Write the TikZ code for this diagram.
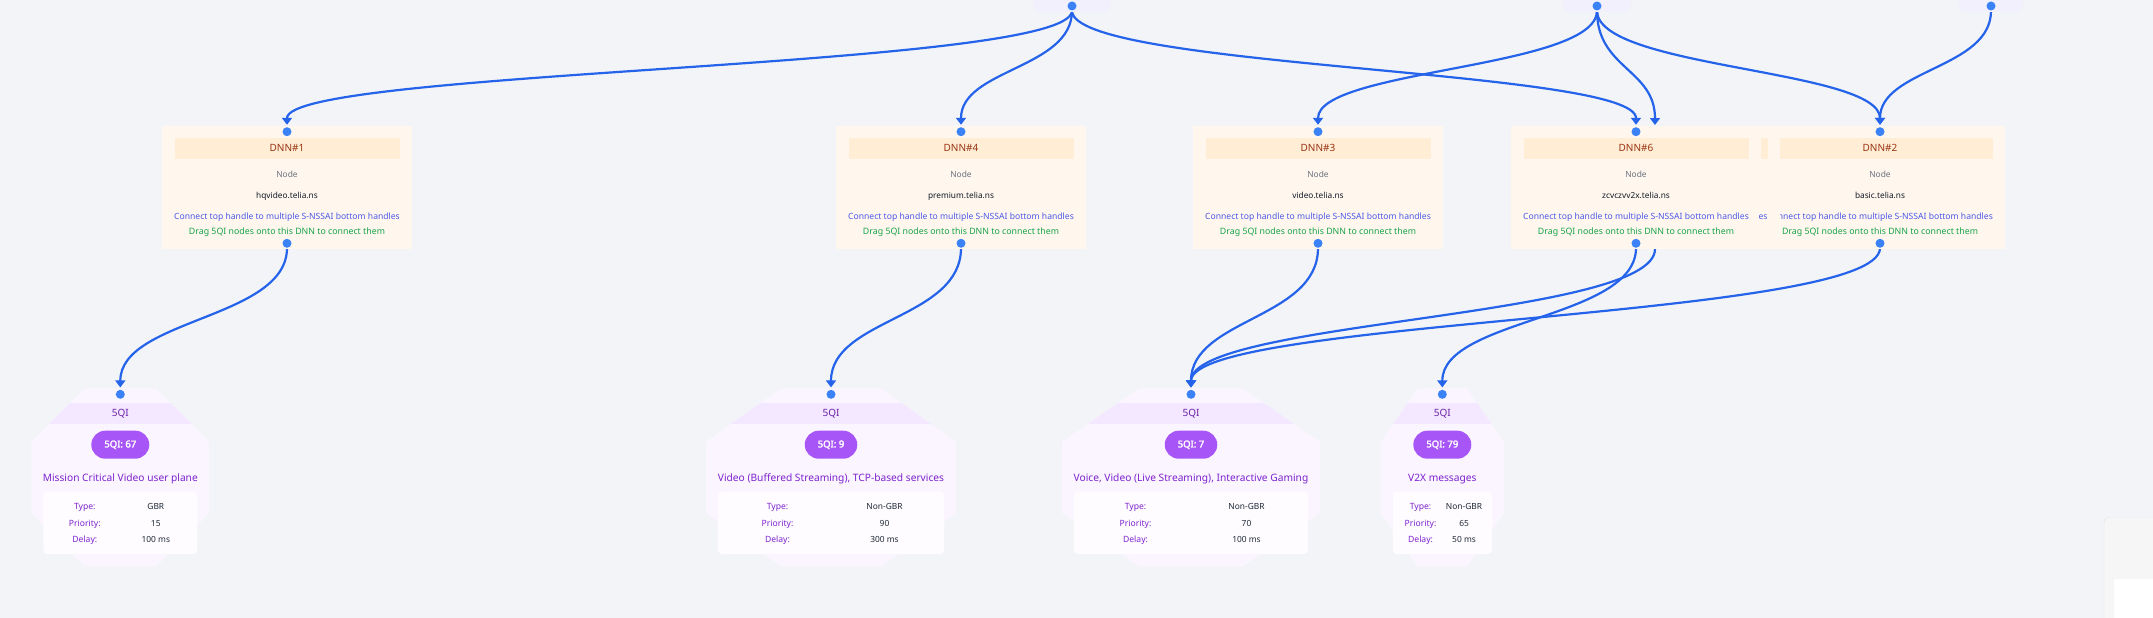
\documentclass[tikz,border=0pt]{standalone}
\usepackage{fontspec}
\setmainfont{Noto Sans}[AutoFakeBold=2.5]
\usetikzlibrary{arrows.meta}

\definecolor{canvasc}{RGB}{242,244,247}
\definecolor{edgec}{RGB}{37,99,235}
\definecolor{handlec}{RGB}{59,130,246}
\definecolor{srcc}{RGB}{241,240,252}
\definecolor{dnnc}{RGB}{255,247,237}
\definecolor{dnnheadc}{RGB}{255,237,213}
\definecolor{dnntitlec}{RGB}{154,52,18}
\definecolor{kindc}{RGB}{107,114,128}
\definecolor{hostc}{RGB}{17,24,39}
\definecolor{hintc}{RGB}{74,88,232}
\definecolor{dragc}{RGB}{22,163,74}
\definecolor{qic}{RGB}{250,245,255}
\definecolor{qiheadc}{RGB}{243,232,255}
\definecolor{qititlec}{RGB}{107,33,168}
\definecolor{qipillc}{RGB}{168,85,247}
\definecolor{qitextc}{RGB}{126,34,206}
\definecolor{qiinfoc}{RGB}{254,252,255}
\definecolor{qivalc}{RGB}{31,41,55}
\definecolor{panelc}{RGB}{246,246,247}
\definecolor{panellinec}{RGB}{228,229,232}

\pgfdeclarelayer{canvaslayer}
\pgfdeclarelayer{edgelayer}
\pgfsetlayers{canvaslayer,edgelayer,main}

\tikzset{
  txt/.style={inner sep=0pt,text height=0.74em,text depth=0.2em},
  handledot/.style={circle,fill=handlec,minimum size=9pt,inner sep=0pt},
  link/.style={draw=edgec,line width=2.2pt,-{Triangle[length=7pt,width=10pt]},shorten >=2.2pt},
  srcbox/.style={fill=srcc,rounded corners=6pt,minimum height=32pt,inner sep=0pt},
  dnnbox/.style={fill=dnnc,minimum width=250pt,minimum height=123.3pt,inner sep=0pt},
  dnnhead/.style={txt,fill=dnnheadc,minimum width=225pt,minimum height=21.3pt,text=dnntitlec,font=\fontsize{10}{12}\selectfont},
  kindlabel/.style={txt,text=kindc,font=\fontsize{8.4}{10}\selectfont},
  hostlabel/.style={txt,text=hostc,font=\fontsize{8.3}{10}\selectfont},
  hintlabel/.style={txt,text=hintc,font=\fontsize{8.6}{10}\selectfont},
  draglabel/.style={txt,text=dragc,font=\fontsize{8.8}{10}\selectfont},
  qihead/.style={txt,text=qititlec,font=\fontsize{10}{12}\selectfont},
  qipill/.style={txt,fill=qipillc,text=white,rounded corners=14pt,minimum height=28pt,inner xsep=13pt,font=\bfseries\fontsize{9.5}{11}\selectfont},
  qiabout/.style={txt,text=qitextc,font=\fontsize{10.2}{12}\selectfont},
  qiinfo/.style={fill=qiinfoc,rounded corners=4pt,minimum height=62.3pt,inner sep=0pt},
  qikey/.style={txt,text=qitextc,font=\fontsize{8.6}{10}\selectfont},
  qival/.style={txt,text=qivalc,font=\fontsize{8.4}{10}\selectfont}
}

\begin{document}
\begin{tikzpicture}[x=1pt,y=-1pt]
\useasboundingbox (0,0) rectangle (2153,618);
\begin{pgfonlayer}{canvaslayer}
\fill[canvasc] (0,0) rectangle (2153,618);
\end{pgfonlayer}

% S-NSSAI nodes (cut off at the top)
\foreach \cx/\w/\id in {1072/77/1,1597/68/2,1991/64/3}{
    \node[srcbox,minimum width=\w pt] (src\id) at (\cx,-4) {};
    \node[handledot] (src\id out) at (\cx,6) {};
}

% DNN nodes
\foreach \cx/\id/\host in {287/1/hqvideo.telia.ns,961/4/premium.telia.ns,1318/3/video.telia.ns,1636/6/zcvczvv2x.telia.ns,1880/2/basic.telia.ns}{
    \node[dnnbox] (dnn\id) at (\cx,187.35) {};
    \node[dnnhead] (dnn\id head) at (\cx,148.35) {DNN\#\id};
    \node[kindlabel] (dnn\id kind) at (\cx,174.3) {Node};
    \node[hostlabel] (dnn\id host) at (\cx,196) {\host};
    \node[hintlabel] (dnn\id hint) at (\cx,216.7) {Connect top handle to multiple S-NSSAI bottom handles};
    \node[draglabel] (dnn\id drag) at (\cx,231.7) {Drag 5QI nodes onto this DNN to connect them};
    \node[handledot] (dnn\id top) at (\cx,131.7) {};
    \node[handledot] (dnn\id bot) at (\cx,243.3) {};
}

% DNN hidden under DNN#6, only its right edge shows
\fill[dnnc] (1761,125.7) rectangle (1780,249);
\fill[dnnheadc] (1761,137.7) rectangle (1767.7,159);
\node[hintlabel,anchor=east] (hidhint) at (1767.7,216.7) {es};
\coordinate (hidtop) at (1655,127.2);
\coordinate (hidbot) at (1655,249);

% 5QI nodes
\foreach \cx/\w/\qi/\about/\kind/\prio/\delay in {
    120.3/178/67/{Mission Critical Video user plane}/GBR/15/100 ms,
    831/250/9/{Video (Buffered Streaming), TCP-based services}/Non-GBR/90/300 ms,
    1191/258/7/{Voice, Video (Live Streaming), Interactive Gaming}/Non-GBR/70/100 ms,
    1442.3/123/79/{V2X messages}/Non-GBR/65/50 ms}{
    \pgfmathsetmacro{\hw}{\w/2}
    \pgfmathsetmacro{\cut}{0.3*\w}
    \pgfmathsetmacro{\bw}{\w-24}
    \pgfmathsetmacro{\col}{\bw/4-3}
    \begin{scope}
        \path[preaction={fill=qic},clip] ({\cx-\hw+\cut},388.3) -- ({\cx+\hw-\cut},388.3) -- ({\cx+\hw},441.8) -- ({\cx+\hw},513.2)
            -- ({\cx+\hw-\cut},566.7) -- ({\cx-\hw+\cut},566.7) -- ({\cx-\hw},513.2) -- ({\cx-\hw},441.8) -- cycle;
        \fill[qiheadc] ({\cx-\hw},402.7) rectangle ({\cx+\hw},424.3);
    \end{scope}
    \node[qihead] (q\qi head) at (\cx,413.7) {5QI};
    \node[qipill] (q\qi pill) at (\cx,444.7) {5QI: \qi};
    \node[qiabout] (q\qi about) at (\cx,479) {\about};
    \node[qiinfo,minimum width=\bw pt] (q\qi info) at (\cx,522.85) {};
    \node[qikey] (q\qi typekey) at ({\cx-\col},506.7) {Type:};
    \node[qival] (q\qi typeval) at ({\cx+\col},506.7) {\kind};
    \node[qikey] (q\qi priokey) at ({\cx-\col},523.7) {Priority:};
    \node[qival] (q\qi prioval) at ({\cx+\col},523.7) {\prio};
    \node[qikey] (q\qi delaykey) at ({\cx-\col},539.3) {Delay:};
    \node[qival] (q\qi delayval) at ({\cx+\col},539.3) {\delay};
    \node[handledot] (q\qi top) at (\cx,394.3) {};
}

% minimap panel, bottom right
\draw[fill=panelc,draw=panellinec,rounded corners=6pt] (2104,517) rectangle (2200,680);
\fill[white] (2114,579) rectangle (2200,680);

% edges, under the nodes
\begin{pgfonlayer}{edgelayer}
\foreach \a/\b in {src1out/dnn1top,src1out/dnn4top,src1out/dnn6top,src2out/dnn3top,src2out/dnn2top,src3out/dnn2top}
    \draw[link] (\a.south) .. controls +(0,58) and +(0,-58) .. (\b.north);
\draw[link] (src2out.south) .. controls +(0,58) and +(0,-58) .. (hidtop);
\foreach \a/\b in {dnn1bot/q67top,dnn4bot/q9top,dnn3bot/q7top,dnn6bot/q79top,dnn2bot/q7top}
    \draw[link] (\a.south) .. controls +(0,71) and +(0,-71) .. (\b.north);
\draw[link] (hidbot) .. controls +(0,69) and +(0,-69) .. (q7top.north);
\end{pgfonlayer}
\end{tikzpicture}
\end{document}
